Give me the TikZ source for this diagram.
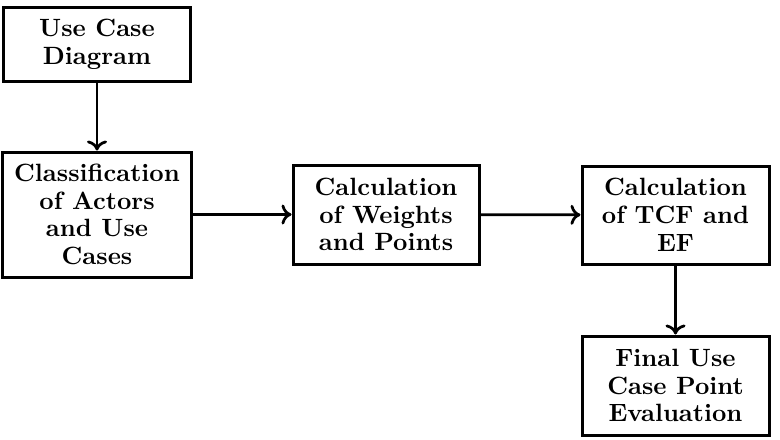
\documentclass[tikz,border=0pt]{standalone}
\usetikzlibrary{arrows.meta}
\begin{document}
\begin{tikzpicture}[x=0.4pt,y=-0.4pt,
  box/.style={draw,line width=1.2pt,align=center,inner sep=1pt,
    font={\bfseries\fontsize{10}{11.1}\selectfont}},
  conn/.style={line width=1.1pt,-{Computer Modern Rightarrow[length=4pt,width=8pt]}}]
\useasboundingbox (0,0) rectangle (780,440);
\node[box,minimum width=74.4pt,minimum height=29.2pt] (ucd) at (97,44.5) {Use Case\\Diagram};
\node[box,minimum width=75.2pt,minimum height=50pt] (cls) at (97,214.5) {Classification\\of Actors\\and Use\\Cases};
\node[box,minimum width=74.4pt,minimum height=39.6pt] (wp) at (386,214.5) {Calculation\\of Weights\\and Points};
\node[box,minimum width=74.8pt,minimum height=39.2pt] (tcf) at (675.5,215) {Calculation\\of TCF and\\EF};
\node[box,minimum width=74.8pt,minimum height=39.6pt] (fin) at (675.5,385.5) {Final Use\\Case Point\\Evaluation};
\draw[conn] (ucd) -- (cls);
\draw[conn] (cls) -- (wp);
\draw[conn] (wp) -- (tcf);
\draw[conn] (tcf) -- (fin);
\end{tikzpicture}
\end{document}
